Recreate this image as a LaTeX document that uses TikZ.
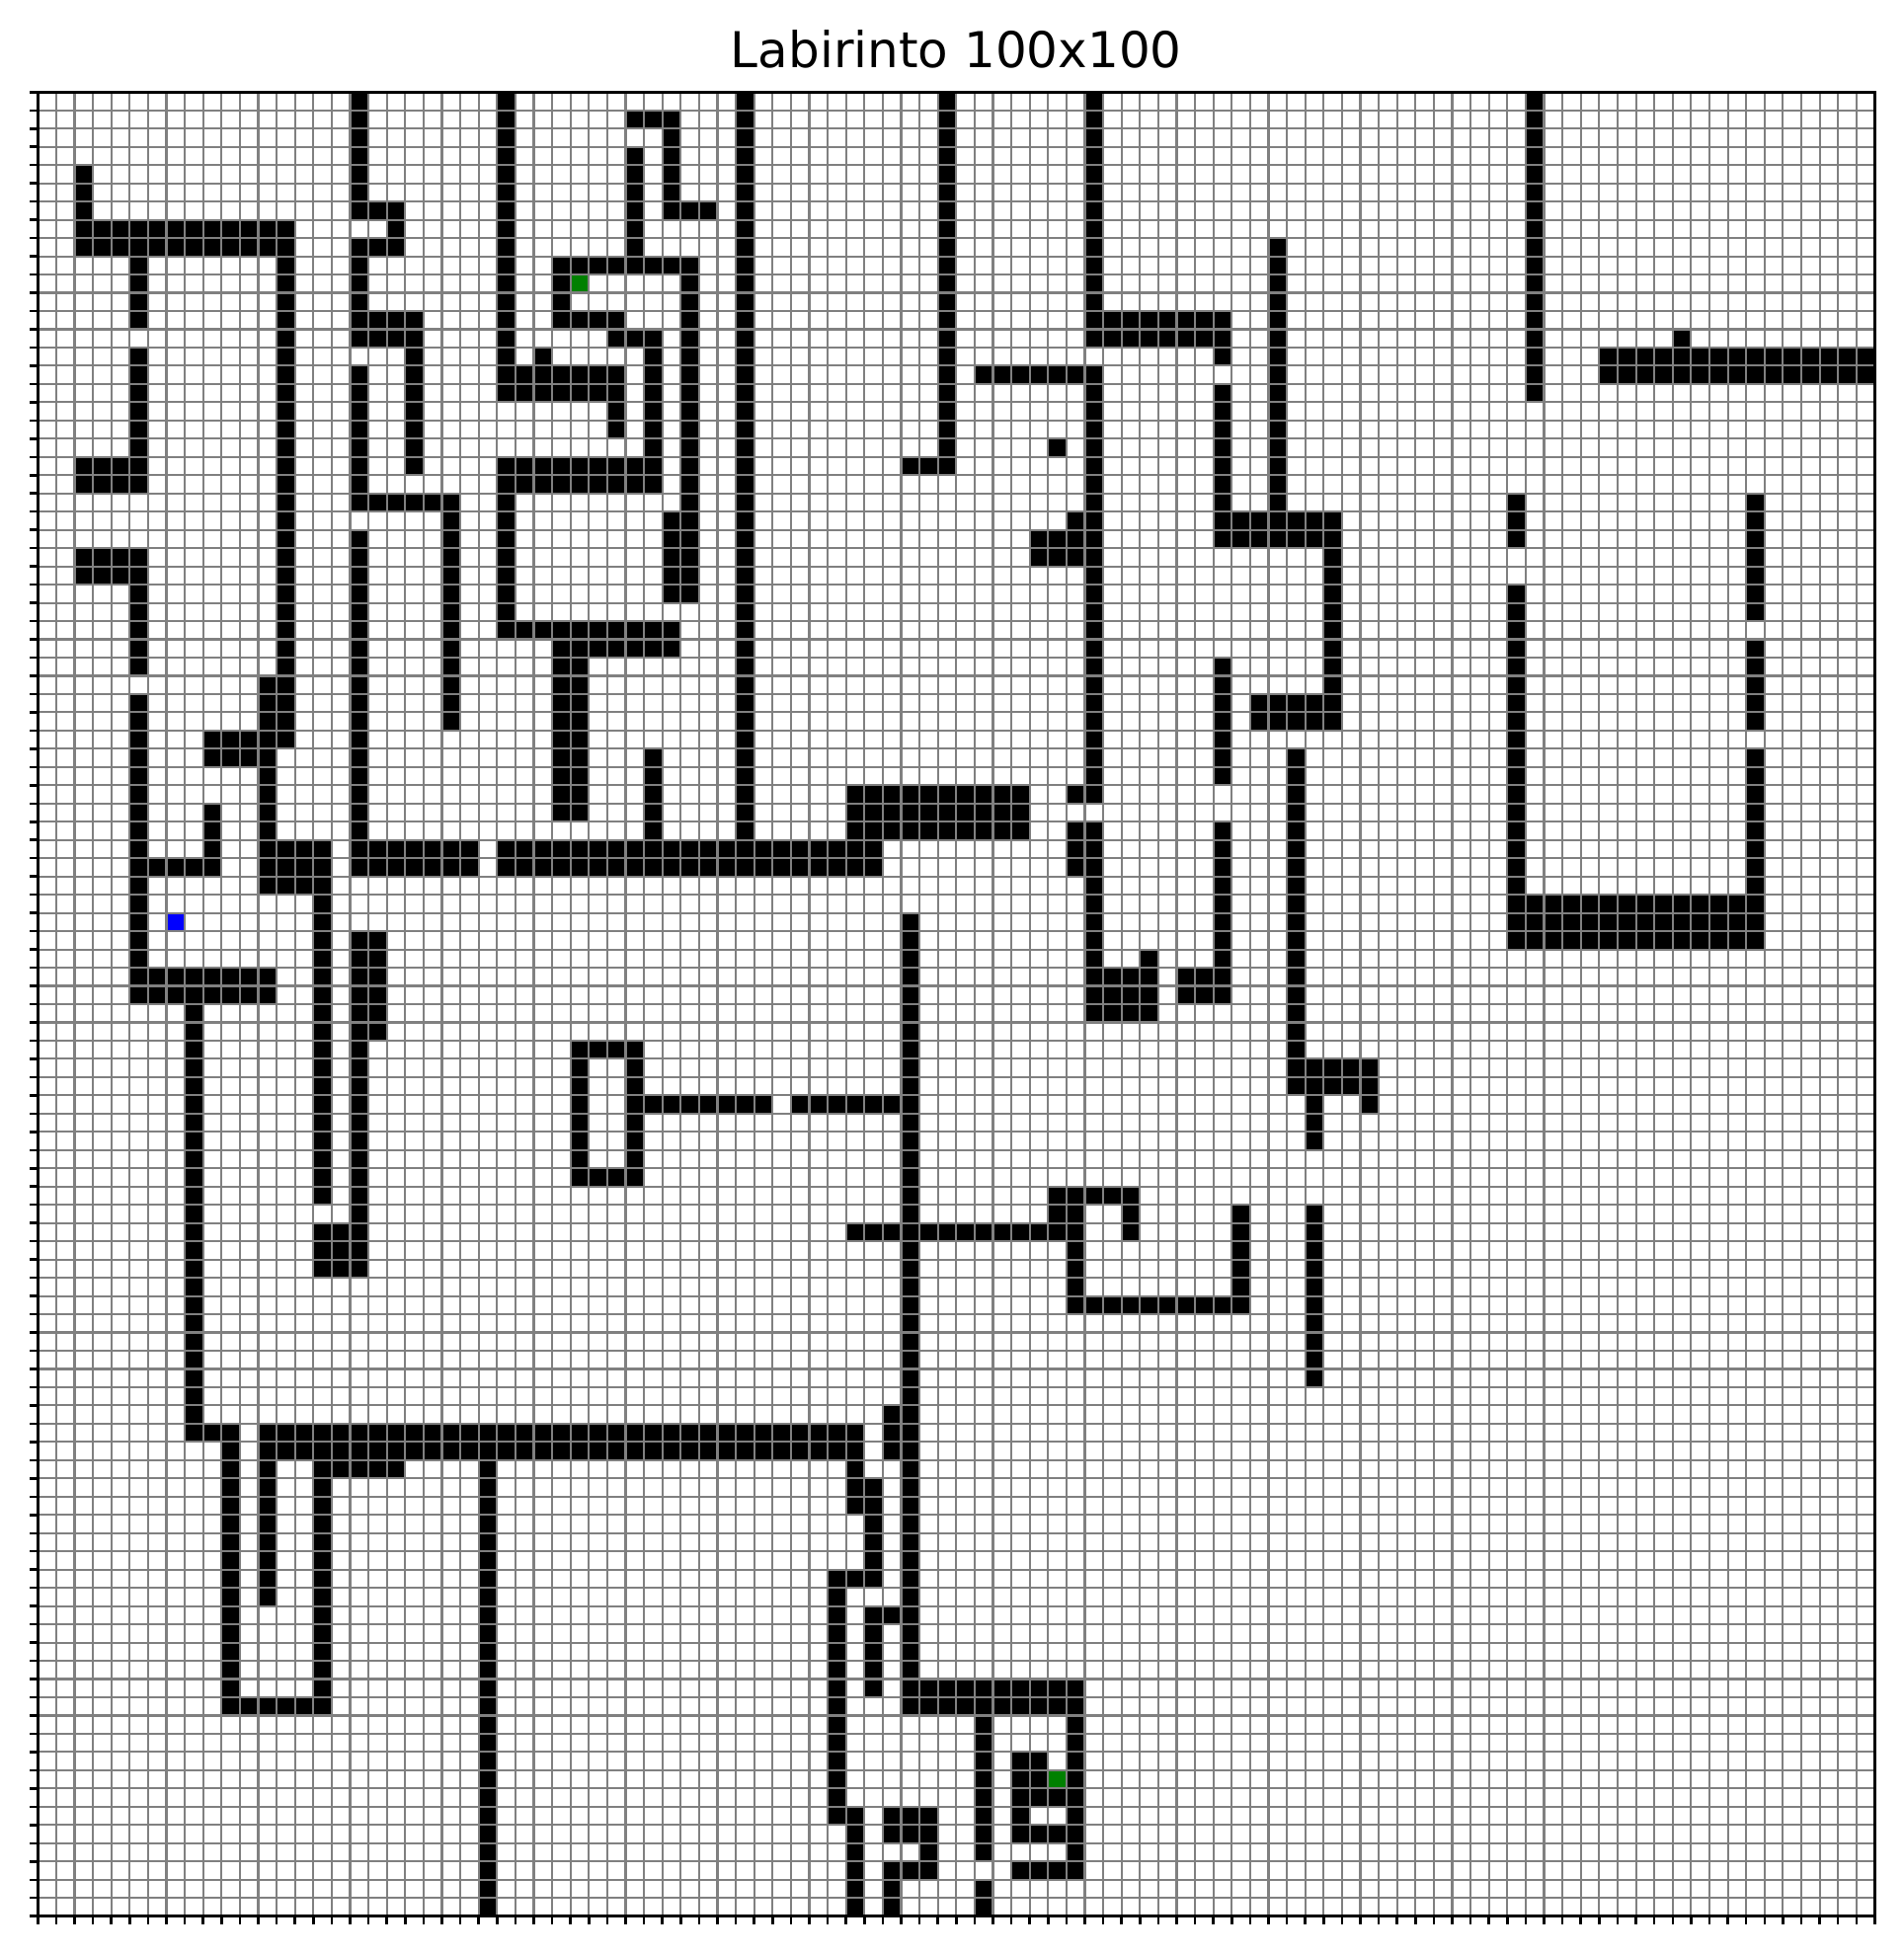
\documentclass[tikz,border=0pt]{standalone}
\usepackage{fontspec}
\setmainfont{DejaVu Sans}
\newcommand{\mzw}[4]{\fill[black] (#1,#3) rectangle ({#2+1},{#4+1});}
\begin{document}
\begin{tikzpicture}[
  gridline/.style={draw=gray, line width=0.021cm},
  frameline/.style={draw=black, line width=0.033cm},
  tickline/.style={draw=black, line width=0.025cm},
  titletext/.style={font=\fontsize{14.23}{17}\selectfont, inner sep=0pt, anchor=base}
]
\useasboundingbox[fill=white] (0,0) rectangle (19.28,-19.79);
\node[titletext] (title) at (9.683,-0.68) {Labirinto 100x100};
\begin{scope}[shift={(0.383,-0.933)}, x=0.186cm, y=-0.18474cm]
\fill[white] (0,0) rectangle (100,100);
% left region
\mzw{2}{2}{4}{6}
\mzw{2}{13}{7}{8}
\mzw{5}{5}{9}{12}
\mzw{5}{5}{14}{19}
\mzw{2}{5}{20}{21}
\mzw{2}{5}{25}{26}
\mzw{5}{5}{27}{31}
\mzw{5}{5}{33}{49}
\mzw{5}{12}{48}{49}
\mzw{5}{9}{42}{42}
\mzw{9}{9}{39}{41}
\mzw{13}{13}{7}{35}
\mzw{12}{12}{32}{34}
\mzw{9}{12}{35}{36}
\mzw{12}{12}{37}{40}
\mzw{12}{15}{41}{43}
\mzw{15}{15}{44}{60}
\mzw{15}{17}{62}{64}
\mzw{17}{17}{0}{6}
\mzw{17}{19}{6}{6}
\mzw{19}{19}{7}{7}
\mzw{17}{19}{8}{8}
\mzw{17}{17}{9}{13}
\mzw{17}{20}{12}{13}
\mzw{20}{20}{14}{20}
\mzw{17}{17}{15}{22}
\mzw{17}{22}{22}{22}
\mzw{22}{22}{23}{34}
\mzw{17}{17}{24}{42}
\mzw{17}{23}{41}{42}
\mzw{25}{45}{41}{42}
\mzw{17}{18}{46}{51}
\mzw{17}{17}{52}{61}
\mzw{8}{8}{50}{73}
\mzw{8}{10}{73}{73}
\mzw{10}{10}{74}{88}
\mzw{10}{15}{88}{88}
\mzw{15}{15}{75}{87}
\mzw{15}{19}{75}{75}
\mzw{12}{12}{75}{82}
\mzw{12}{44}{73}{74}
\mzw{24}{24}{75}{99}
% middle top
\mzw{25}{25}{0}{16}
\mzw{25}{31}{15}{16}
\mzw{31}{31}{17}{18}
\mzw{27}{27}{14}{14}
\mzw{33}{33}{14}{19}
\mzw{31}{33}{13}{13}
\mzw{28}{31}{12}{12}
\mzw{28}{28}{10}{11}
\mzw{28}{35}{9}{9}
\mzw{32}{32}{3}{8}
\mzw{32}{34}{1}{1}
\mzw{34}{34}{2}{5}
\mzw{34}{36}{6}{6}
\mzw{35}{35}{10}{27}
\mzw{34}{34}{23}{27}
\mzw{25}{33}{20}{21}
\mzw{25}{25}{22}{28}
\mzw{25}{34}{29}{29}
\mzw{28}{34}{30}{30}
\mzw{28}{29}{31}{39}
\mzw{33}{33}{36}{40}
\mzw{38}{38}{0}{40}
\mzw{49}{49}{0}{19}
\mzw{47}{49}{20}{20}
\mzw{44}{53}{38}{40}
% right middle
\mzw{57}{57}{0}{11}
\mzw{57}{64}{12}{13}
\mzw{64}{64}{14}{14}
\mzw{51}{57}{15}{15}
\mzw{57}{57}{16}{38}
\mzw{64}{64}{16}{22}
\mzw{64}{70}{23}{24}
\mzw{55}{55}{19}{19}
\mzw{56}{56}{23}{23}
\mzw{54}{56}{24}{25}
\mzw{56}{56}{38}{38}
\mzw{56}{57}{40}{42}
\mzw{57}{57}{43}{47}
\mzw{57}{60}{48}{50}
\mzw{60}{60}{47}{47}
\mzw{64}{64}{31}{37}
\mzw{64}{64}{40}{47}
\mzw{62}{64}{48}{49}
\mzw{67}{67}{8}{22}
\mzw{70}{70}{25}{32}
\mzw{66}{70}{33}{34}
\mzw{68}{68}{36}{52}
\mzw{68}{72}{53}{54}
\mzw{69}{69}{55}{57}
\mzw{72}{72}{55}{55}
\mzw{69}{69}{61}{70}
\mzw{81}{81}{0}{16}
\mzw{89}{89}{13}{13}
\mzw{85}{99}{14}{15}
\mzw{80}{80}{22}{24}
\mzw{80}{80}{27}{46}
\mzw{93}{93}{22}{28}
\mzw{93}{93}{30}{34}
\mzw{93}{93}{36}{46}
\mzw{80}{93}{44}{46}
% middle lower
\mzw{47}{47}{45}{88}
\mzw{29}{32}{52}{52}
\mzw{29}{29}{53}{58}
\mzw{32}{32}{53}{58}
\mzw{29}{32}{59}{59}
\mzw{33}{39}{55}{55}
\mzw{41}{46}{55}{55}
\mzw{55}{59}{60}{60}
\mzw{55}{56}{61}{61}
\mzw{59}{59}{61}{62}
\mzw{44}{56}{62}{62}
\mzw{56}{56}{63}{65}
\mzw{56}{65}{66}{66}
\mzw{65}{65}{61}{65}
\mzw{46}{46}{72}{74}
\mzw{44}{44}{75}{77}
\mzw{45}{45}{76}{80}
\mzw{43}{45}{81}{81}
\mzw{43}{43}{82}{94}
\mzw{44}{44}{94}{99}
\mzw{45}{46}{83}{83}
\mzw{45}{45}{84}{87}
\mzw{47}{56}{87}{88}
\mzw{51}{51}{89}{96}
\mzw{51}{51}{98}{99}
\mzw{56}{56}{89}{97}
\mzw{53}{54}{91}{92}
\mzw{53}{55}{93}{93}
\mzw{53}{53}{94}{94}
\mzw{53}{55}{95}{95}
\mzw{53}{55}{97}{97}
\mzw{46}{48}{94}{95}
\mzw{48}{48}{96}{96}
\mzw{46}{48}{97}{97}
\mzw{46}{46}{98}{99}
% start and goals
\fill[blue] (7,45) rectangle (8,46);
\fill[green!50!black] (29,10) rectangle (30,11);
\fill[green!50!black] (55,92) rectangle (56,93);
% grid
\foreach \i in {0,...,100} {
  \draw[gridline] (\i,0) -- (\i,100);
  \draw[gridline] (0,\i) -- (100,\i);
}
% ticks
\foreach \i in {0,...,100} {
  \draw[tickline] (\i,100) -- +(0cm,-0.08cm);
  \draw[tickline] (0,\i) -- +(-0.08cm,0cm);
}
\draw[frameline] (0,0) rectangle (100,100);
\end{scope}
\end{tikzpicture}
\end{document}
